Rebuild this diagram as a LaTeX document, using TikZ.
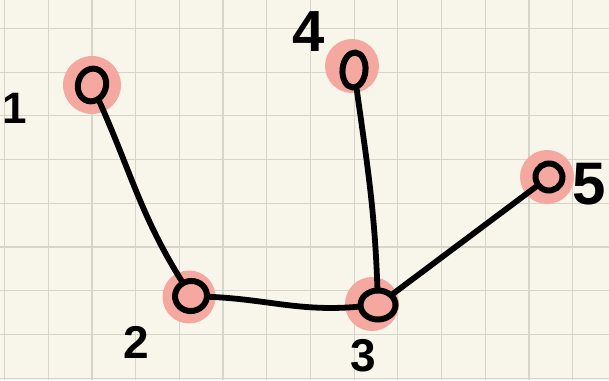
\documentclass[tikz,border=0pt]{standalone}
\usepackage{fontspec}
\setmainfont{Liberation Sans}
\usetikzlibrary{shapes.geometric}
\definecolor{paper}{HTML}{F8F6EA}
\definecolor{gridc}{HTML}{D6D5CA}
\definecolor{halo}{HTML}{F5A89F}
\tikzset{
  halodisk/.style={circle, fill=halo, draw=none, inner sep=0pt},
  zero/.style={ellipse, draw=black, line width=6pt, inner sep=0pt},
  edge/.style={line width=5.8pt, line cap=round, draw=black},
  lab/.style={inner sep=0pt, text=black}
}
\begin{document}
\begin{tikzpicture}[x=1pt,y=1pt]
\useasboundingbox (0,0) rectangle (609,380);
\fill[paper] (0,0) rectangle (609,380);
% grid
\foreach \k in {0,...,13} {
  \draw[gridc, line width=1.2pt] ({4.5+43.7*\k},0) -- ({4.5+43.7*\k},380);
}
\foreach \k in {0,...,8} {
  \draw[gridc, line width=1.2pt] (0,{380-28.5-43.7*\k}) -- (609,{380-28.5-43.7*\k});
}
% halos
\node[halodisk, minimum size=58pt] (p1) at (92,295) {};
\node[halodisk, minimum size=53pt] (p2) at (189,83) {};
\node[halodisk, minimum size=54pt] (p3) at (372,76) {};
\node[halodisk, minimum size=54pt] (p4) at (352,314) {};
\node[halodisk, minimum size=54pt] (p5) at (547,203) {};
% zeros
\node[zero, minimum width=28pt, minimum height=33pt, rotate=-15] (n1) at (92,295) {};
\node[zero, minimum width=32pt, minimum height=30pt, rotate=10] (n2) at (191,84) {};
\node[zero, minimum width=35pt, minimum height=29pt] (n3) at (378,75) {};
\node[zero, minimum width=23pt, minimum height=35pt, rotate=-5] (n4) at (354,310) {};
\node[zero, minimum width=27pt, minimum height=27pt, rotate=-10] (n5) at (549,203) {};
% edges
\draw[edge] (n1) to[out=-63, in=120] (n2);
\draw[edge] (n2) to[out=-5, in=185] (n3);
\draw[edge] (n4) to[out=-81, in=92] (n3);
\draw[edge] (n3) -- (n5);
% labels
\node[lab, font=\bfseries\fontsize{44}{44}\selectfont] (l1) at (15,272) {1};
\node[lab, font=\bfseries\fontsize{58}{58}\selectfont] (l4) at (309,348) {4};
\node[lab, font=\bfseries\fontsize{60}{60}\selectfont] (l5) at (589,196) {5};
\node[lab, font=\bfseries\fontsize{46}{46}\selectfont] (l2) at (136,38) {2};
\node[lab, font=\bfseries\fontsize{46}{46}\selectfont] (l3) at (363,24) {3};
\end{tikzpicture}
\end{document}
